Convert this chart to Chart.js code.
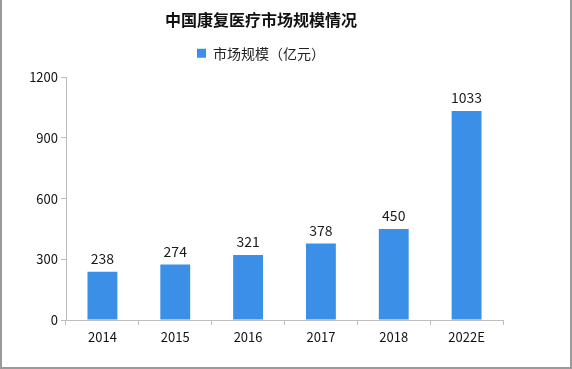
<!DOCTYPE html>
<html>
<head>
<meta charset="utf-8">
<script src="https://cdn.jsdelivr.net/npm/chart.js@4/dist/chart.umd.min.js"></script>
<style>
    html, body { margin: 0; padding: 0; background: #fff; }
    #wrap { position: relative; width: 568px; height: 367px; border: 2px solid #9a9a9a; border-top: none; }
    canvas { display: block; }
</style>
</head>
<body>
<div id="wrap"><canvas id="chart" width="568" height="367"></canvas></div>
<script>
// data
const years = ['2014', '2015', '2016', '2017', '2018', '2022E'];
const marketSize = [238, 274, 321, 378, 450, 1033];
const yTicks = [0, 300, 600, 900, 1200];

const FONT = '"Noto Sans CJK SC", "Noto Sans", sans-serif';

// value labels above each bar
const valueLabels = {
    id: 'valueLabels',
    afterDatasetsDraw(chart) {
        const ctx = chart.ctx;
        const meta = chart.getDatasetMeta(0);
        ctx.save();
        ctx.font = '14px ' + FONT;
        ctx.fillStyle = '#1a1a1a';
        ctx.textAlign = 'center';
        ctx.textBaseline = 'bottom';
        meta.data.forEach((bar, i) => {
            ctx.fillText(String(marketSize[i]), bar.x, bar.y - 6);
        });
        ctx.restore();
    }
};

// empty axis used only to reserve space
const spacer = (pos, size) => ({
    type: pos === 'top' ? 'category' : 'linear',
    position: pos,
    display: true,
    grid: { display: false },
    border: { display: false },
    ticks: { display: false },
    afterFit(scale) {
        if (pos === 'top') scale.height = size; else scale.width = size;
    }
});

new Chart(document.getElementById('chart'), {
    type: 'bar',
    data: {
        labels: years,
        datasets: [{
            label: '市场规模（亿元）',
            data: marketSize,
            backgroundColor: '#3b8fe6',
            categoryPercentage: 0.41,
            barPercentage: 1.0,
        }]
    },
    options: {
        responsive: false,
        animation: false,
        layout: { padding: { left: 0, right: 50, top: 0, bottom: 10 } },
        plugins: {
            title: {
                display: true,
                text: '中国康复医疗市场规模情况',
                color: '#111',
                font: { family: FONT, size: 16, weight: 'bold' },
                padding: { top: 10, bottom: 0 }
            },
            legend: {
                display: true,
                labels: {
                    color: '#222',
                    font: { family: FONT, size: 14 },
                    boxWidth: 9,
                    boxHeight: 9,
                    padding: 17
                }
            },
            tooltip: { enabled: false }
        },
        scales: {
            x: {
                grid: { display: true, drawOnChartArea: false, drawTicks: true, tickLength: 5, color: '#bdbdbd' },
                border: { color: '#bdbdbd' },
                ticks: { color: '#111', font: { family: FONT, size: 13 }, padding: 4 },
                afterFit(scale) { scale.height = 37; }
            },
            y: {
                min: 0,
                max: 1200,
                afterBuildTicks(scale) { scale.ticks = yTicks.map(v => ({ value: v })); },
                grid: { display: true, drawOnChartArea: false, drawTicks: true, tickLength: 5, color: '#bdbdbd' },
                border: { color: '#bdbdbd' },
                ticks: { color: '#111', font: { family: FONT, size: 13 }, padding: 3, callback: v => String(v) },
                afterFit(scale) { scale.width = 64; }
            },
            spacerRight: spacer('right', 17),
            spacerTop: spacer('top', 7)
        }
    },
    plugins: [valueLabels]
});
</script>
</body>
</html>
